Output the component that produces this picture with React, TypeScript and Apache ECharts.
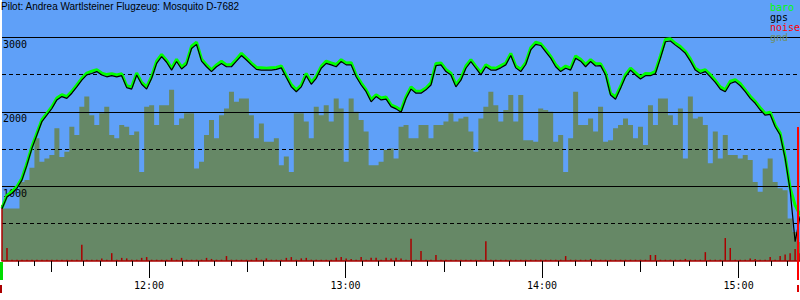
import React, { useEffect, useRef } from "react";
import * as echarts from "echarts";

const TITLE = "Pilot: Andrea Wartlsteiner Flugzeug: Mosquito D-7682";
const SERIES_NAMES = ["baro", "gps", "noise", "gnd"];

// sampling of the flight log (minutes after midnight)
const SAMPLE_START_MIN = 675.1; // 11:15:06
const SAMPLE_STEP_MIN = 1.523; // ~91 s
const AXIS_START_MIN = 675.1;
const AXIS_END_MIN = 918.75;

const HOUR_TICKS = [720, 780, 840, 900];
const HALF_HOUR_TICKS = [690, 750, 810, 870];

// GPS altitude (m)
const gps = [
  700, 860, 905, 975, 1085, 1285, 1510, 1690, 1870, 1955,
  2045, 2160, 2205, 2180, 2250, 2335, 2425, 2495, 2515, 2540,
  2495, 2470, 2485, 2470, 2485, 2325, 2305, 2495, 2370, 2305,
  2450, 2650, 2740, 2665, 2560, 2675, 2575, 2630, 2850, 2905,
  2680, 2605, 2540, 2605, 2650, 2605, 2605, 2680, 2755, 2695,
  2630, 2570, 2560, 2560, 2560, 2570, 2590, 2460, 2335, 2270,
  2335, 2485, 2370, 2450, 2585, 2650, 2630, 2605, 2675, 2630,
  2630, 2470, 2360, 2270, 2135, 2205, 2160, 2170, 2070, 2040,
  1995, 2180, 2305, 2250, 2250, 2295, 2360, 2620, 2630, 2540,
  2495, 2335, 2425, 2585, 2675, 2585, 2495, 2605, 2560, 2560,
  2590, 2630, 2755, 2590, 2540, 2635, 2830, 2905, 2890, 2805,
  2720, 2605, 2540, 2585, 2560, 2720, 2680, 2605, 2675, 2615,
  2620, 2495, 2225, 2170, 2315, 2470, 2560, 2495, 2440, 2485,
  2485, 2515, 2720, 2940, 2950, 2895, 2845, 2785, 2680, 2560,
  2515, 2540, 2470, 2395, 2305, 2270, 2380, 2405, 2350, 2270,
  2180, 2115, 2025, 1955, 1965, 1800, 1690, 1375, 950, 260,
  600,
];

// barometric altitude (m)
const baro = [
  710, 880, 930, 1000, 1110, 1310, 1535, 1715, 1895, 1980,
  2070, 2185, 2230, 2205, 2275, 2360, 2450, 2520, 2545, 2565,
  2520, 2500, 2510, 2495, 2510, 2350, 2335, 2520, 2395, 2335,
  2475, 2680, 2770, 2690, 2585, 2705, 2600, 2660, 2880, 2935,
  2710, 2630, 2565, 2630, 2680, 2630, 2635, 2705, 2785, 2720,
  2655, 2595, 2590, 2585, 2590, 2595, 2615, 2485, 2365, 2295,
  2360, 2515, 2395, 2475, 2610, 2680, 2655, 2635, 2700, 2655,
  2660, 2495, 2390, 2295, 2165, 2230, 2185, 2200, 2095, 2065,
  2020, 2205, 2335, 2275, 2280, 2320, 2390, 2650, 2655, 2570,
  2520, 2365, 2450, 2615, 2700, 2610, 2525, 2630, 2590, 2585,
  2620, 2655, 2785, 2615, 2570, 2660, 2860, 2935, 2915, 2835,
  2745, 2635, 2565, 2615, 2585, 2750, 2705, 2635, 2700, 2645,
  2645, 2525, 2250, 2200, 2340, 2500, 2585, 2525, 2465, 2515,
  2510, 2545, 2750, 2970, 2980, 2920, 2875, 2810, 2710, 2585,
  2545, 2565, 2500, 2420, 2335, 2295, 2410, 2430, 2380, 2295,
  2210, 2140, 2055, 1980, 1995, 1825, 1715, 1405, 980, 750,
  615,
];

// ground elevation under the glider (m)
const gnd = [
  705, 705, 705, 705, 1060, 1085, 1250, 1645, 1330, 1375,
  1420, 1780, 1395, 1465, 1800, 1690, 2070, 2205, 1955, 1825,
  1980, 2070, 1690, 1645, 1825, 1800, 1690, 1735, 1195, 2070,
  2090, 1825, 2090, 2090, 2295, 1825, 1910, 1980, 1980, 1240,
  1330, 1690, 1890, 1645, 1955, 2045, 2270, 2135, 2180, 2180,
  1955, 1645, 1845, 1600, 1600, 1645, 1285, 1400, 1195, 1980,
  1980, 1870, 1645, 2070, 1955, 2090, 1870, 2180, 2045, 1330,
  2180, 2000, 1890, 1735, 1285, 1285, 1330, 1490, 1510, 1375,
  1800, 1825, 1645, 1645, 1825, 1825, 1645, 1825, 1825, 1870,
  1980, 1870, 1910, 1935, 1735, 1465, 1910, 2070, 2270, 2090,
  1870, 2025, 2225, 1870, 2225, 1620, 1620, 1600, 2045, 2025,
  2000, 1600, 1690, 1195, 1645, 2270, 1825, 1825, 1910, 1735,
  2070, 1600, 1620, 1780, 1825, 1910, 1825, 1645, 1800, 1555,
  2090, 1825, 2180, 2180, 1955, 1825, 2045, 1375, 2205, 1910,
  1935, 1825, 1310, 1735, 1375, 1690, 1420, 1420, 1375, 1420,
  1355, 1060, 930, 1240, 1375, 1060, 975, 950, 570, 390,
  255,
];

// engine noise level (0..1000)
const noise = [
  215, 50, 5, 5, 5, 5, 5, 5, 5, 5,
  5, 5, 5, 5, 5, 5, 62, 5, 5, 5,
  10, 5, 30, 5, 12, 10, 5, 5, 12, 15,
  5, 5, 5, 5, 12, 5, 12, 5, 5, 5,
  5, 12, 8, 5, 5, 19, 5, 5, 5, 5,
  5, 12, 5, 10, 5, 5, 5, 12, 15, 5,
  10, 12, 5, 5, 5, 5, 5, 12, 15, 10,
  8, 5, 15, 5, 12, 12, 5, 12, 10, 12,
  10, 5, 85, 5, 38, 5, 5, 23, 5, 5,
  5, 5, 5, 5, 5, 5, 5, 76, 5, 5,
  5, 5, 5, 5, 5, 5, 5, 5, 5, 5,
  5, 5, 5, 19, 5, 5, 5, 5, 8, 5,
  5, 5, 5, 5, 5, 5, 5, 5, 5, 5,
  23, 23, 5, 5, 5, 5, 5, 8, 5, 5,
  5, 34, 5, 5, 5, 88, 50, 5, 5, 5,
  10, 8, 5, 5, 15, 5, 19, 25, 30, 46,
  30,
];

const FIVE_MIN_TICKS: number[] = [];
for (let m = 680; m <= 915; m += 5) FIVE_MIN_TICKS.push(m);

const timeOf = (i: number) => SAMPLE_START_MIN + i * SAMPLE_STEP_MIN;
const pairs = (arr: number[]) => arr.map((v, i) => [timeOf(i), v]);
const fmtTime = (v: number) => {
  const h = Math.floor(v / 60);
  const m = Math.round(v - h * 60);
  return `${h}:${String(m).padStart(2, "0")}`;
};

const MONO = "DejaVu Sans Mono";

export default function App() {
  const ref = useRef<HTMLDivElement>(null);

  useEffect(() => {
    if (!ref.current) return;
    const chart = echarts.init(ref.current, undefined, { renderer: "svg" });

    const baseX = {
      type: "value" as const,
      min: AXIS_START_MIN,
      max: AXIS_END_MIN,
      position: "bottom" as const,
      splitLine: { show: false },
      axisLabel: { show: false },
    };

    chart.setOption({
      animation: false,
      backgroundColor: "#ffffff",
      title: {
        text: TITLE,
        left: 1,
        top: 1,
        padding: 0,
        textStyle: {
          fontFamily: "Liberation Sans",
          fontSize: 10,
          fontWeight: "normal",
          color: "#000000",
        },
      },
      legend: {
        orient: "vertical",
        left: 765,
        top: 2,
        padding: 0,
        itemGap: 0,
        itemWidth: 0,
        itemHeight: 10,
        icon: "none",
        selectedMode: false,
        textStyle: { fontFamily: MONO, fontSize: 10, lineHeight: 10 },
        data: [
          { name: SERIES_NAMES[0], textStyle: { color: "#00ff00" } },
          { name: SERIES_NAMES[1], textStyle: { color: "#000000" } },
          { name: SERIES_NAMES[2], textStyle: { color: "#ff0000" } },
          { name: SERIES_NAMES[3], textStyle: { color: "#6f8f66" } },
        ],
      },
      grid: {
        left: 0,
        top: 0,
        width: 800,
        height: 261,
        show: true,
        borderWidth: 0,
        backgroundColor: "#5fa0f8",
      },
      xAxis: [
        {
          ...baseX,
          axisLine: { show: true, lineStyle: { color: "#aa0000", width: 1.5 } },
          axisTick: {
            show: true,
            length: 5,
            customValues: FIVE_MIN_TICKS,
            lineStyle: { color: "#000000", width: 1 },
          },
          z: 6,
        },
        {
          ...baseX,
          axisLine: { show: false },
          axisTick: {
            show: true,
            length: 11,
            customValues: HALF_HOUR_TICKS,
            lineStyle: { color: "#000000", width: 1 },
          },
        },
        {
          ...baseX,
          axisLine: { show: false },
          axisTick: {
            show: true,
            length: 17,
            customValues: HOUR_TICKS,
            lineStyle: { color: "#000000", width: 1 },
          },
          axisLabel: {
            show: true,
            customValues: HOUR_TICKS,
            formatter: (v: number) => fmtTime(v),
            margin: 19,
            fontFamily: MONO,
            fontSize: 10,
            color: "#000000",
          },
        },
      ],
      yAxis: [
        {
          type: "value",
          min: 0,
          max: 3500,
          interval: 1000,
          z: 3,
          axisLine: { show: false },
          axisTick: { show: false },
          splitLine: {
            show: true,
            showMinLine: false,
            showMaxLine: false,
            lineStyle: { color: "#000000", width: 1, type: "solid" },
          },
          axisLabel: {
            inside: true,
            margin: 1,
            align: "left",
            verticalAlign: "top",
            padding: [2, 0, 0, 0],
            fontFamily: MONO,
            fontSize: 10,
            color: "#000000",
            formatter: (v: number) => (v > 0 && v < 3500 ? String(v) : ""),
          },
        },
        {
          type: "value",
          min: 0,
          max: 3500,
          interval: 500,
          z: 3,
          axisLine: { show: false },
          axisTick: { show: false },
          axisLabel: { show: false },
          splitLine: {
            show: true,
            showMinLine: false,
            showMaxLine: false,
            lineStyle: { color: "#000000", width: 1, type: [4, 3] },
          },
        },
        {
          type: "value",
          min: 0,
          max: 1000,
          show: false,
        },
      ],
      series: [
        {
          name: SERIES_NAMES[3],
          type: "line",
          xAxisIndex: 0,
          yAxisIndex: 0,
          step: "middle",
          data: pairs(gnd),
          showSymbol: false,
          symbol: "none",
          lineStyle: { width: 0, color: "#668866" },
          itemStyle: { color: "#668866" },
          areaStyle: { color: "#668866", opacity: 1 },
          z: 1,
        },
        {
          name: SERIES_NAMES[2],
          type: "bar",
          xAxisIndex: 0,
          yAxisIndex: 2,
          data: pairs(noise),
          barWidth: 1.5,
          itemStyle: { color: "#aa0000" },
          z: 4,
        },
        {
          name: SERIES_NAMES[0],
          type: "line",
          xAxisIndex: 0,
          yAxisIndex: 0,
          data: pairs(baro),
          showSymbol: false,
          symbol: "none",
          lineStyle: { width: 3, color: "#00ff00" },
          itemStyle: { color: "#00ff00" },
          z: 5,
        },
        {
          name: SERIES_NAMES[1],
          type: "line",
          xAxisIndex: 0,
          yAxisIndex: 0,
          data: pairs(gps),
          showSymbol: false,
          symbol: "none",
          lineStyle: { width: 1.2, color: "#000000" },
          itemStyle: { color: "#000000" },
          z: 6,
        },
      ],
      graphic: [
        { type: "rect", left: 0, top: 262, shape: { width: 3, height: 18 }, style: { fill: "#00dd00" }, z: 10 },
        { type: "rect", left: 0, top: 285, shape: { width: 2, height: 8 }, style: { fill: "#aa0000" }, z: 10 },
        { type: "rect", left: 797, top: 127, shape: { width: 2, height: 153 }, style: { fill: "#ff0000" }, z: 10 },
        { type: "rect", left: 797, top: 285, shape: { width: 2, height: 7 }, style: { fill: "#dd0000" }, z: 10 },
      ],
    });

    return () => chart.dispose();
  }, []);

  return (
    <div
      ref={ref}
      style={{ width: 800, height: 300, position: "absolute", left: 0, top: 0 }}
    />
  );
}
